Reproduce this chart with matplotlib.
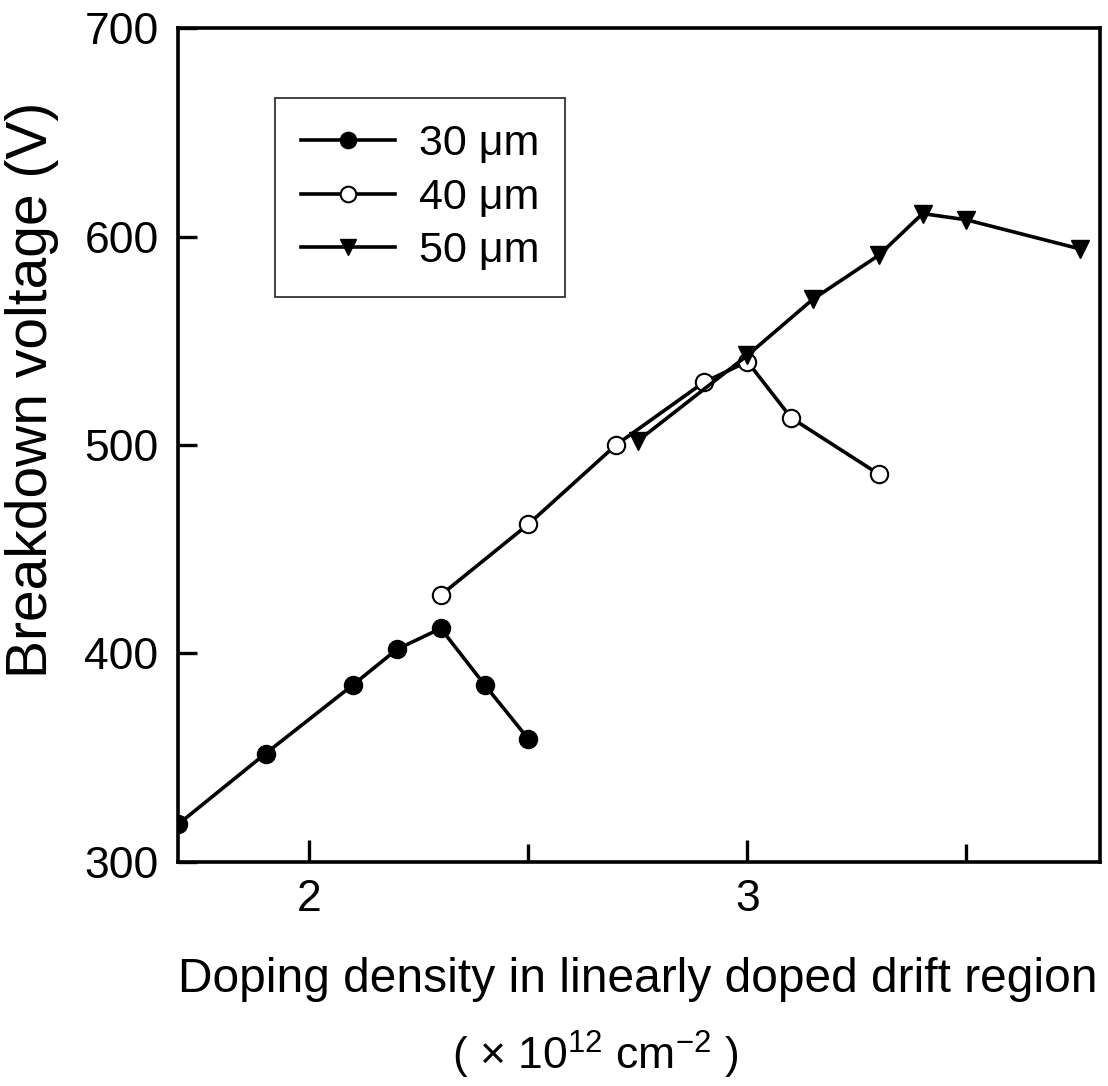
import matplotlib
matplotlib.use("Agg")
import matplotlib.pyplot as plt

plt.rcParams["font.family"] = ["Liberation Sans", "DejaVu Sans"]
plt.rcParams["mathtext.default"] = "regular"

# 30 um drift length
x30 = [1.70, 1.90, 2.10, 2.20, 2.30, 2.40, 2.50]
y30 = [318, 352, 385, 402, 412, 385, 359]
# 40 um
x40 = [2.30, 2.50, 2.70, 2.90, 3.00, 3.10, 3.30]
y40 = [428, 462, 500, 530, 540, 513, 486]
# 50 um
x50 = [2.75, 3.00, 3.15, 3.30, 3.40, 3.50, 3.76]
y50 = [502, 543, 570, 591, 611, 608, 594]

labels = ["30 \u03bcm", "40 \u03bcm", "50 \u03bcm"]

fig = plt.figure(figsize=(11.08, 10.86), dpi=100)
ax = fig.add_axes([0.1606, 0.2063, 0.8322, 0.7679])

lw = 2.6
ax.plot(x30, y30, "-", color="black", lw=lw, marker="o", ms=13,
        mfc="black", mec="black", label=labels[0], zorder=3)
ax.plot(x40, y40, "-", color="black", lw=lw, marker="o", ms=12.5,
        mfc="white", mec="black", mew=1.5, label=labels[1], zorder=3)
ax.plot(x50, y50, "-", color="black", lw=lw, marker="v", ms=13,
        mfc="black", mec="black", label=labels[2], zorder=4)

ax.set_xlim(1.7, 3.805)
ax.set_ylim(300, 700)
ax.set_xticks([2, 3])
ax.set_xticks([2.5, 3.5], minor=True)
ax.set_yticks([300, 400, 500, 600, 700])
ax.tick_params(axis="both", which="both", direction="in", width=2.4)
ax.tick_params(axis="x", which="major", length=16, labelsize=32, pad=12)
ax.tick_params(axis="x", which="minor", length=13)
ax.tick_params(axis="y", which="major", length=14, labelsize=32, pad=14)
for s in ax.spines.values():
    s.set_linewidth(2.6)

leg = ax.legend(loc="upper left", bbox_to_anchor=(0.105, 0.916), fontsize=31,
                frameon=True, fancybox=False, edgecolor="black",
                handlelength=2.2, handletextpad=0.55, labelspacing=0.32,
                borderpad=0.6, borderaxespad=0, markerscale=0.9)
leg.get_frame().set_linewidth(1.3)

fig.text(0.576, 0.098, "Doping density in linearly doped drift region",
         ha="center", va="center", fontsize=34.5)
fig.text(0.537, 0.029, "( $\\times$ 10$^{12}$ cm$^{-2}$ )",
         ha="center", va="center", fontsize=32)
fig.text(0.029, 0.641, "Breakdown voltage (V)", rotation=90,
         ha="center", va="center", fontsize=41)

fig.savefig("out.png", dpi=100)
